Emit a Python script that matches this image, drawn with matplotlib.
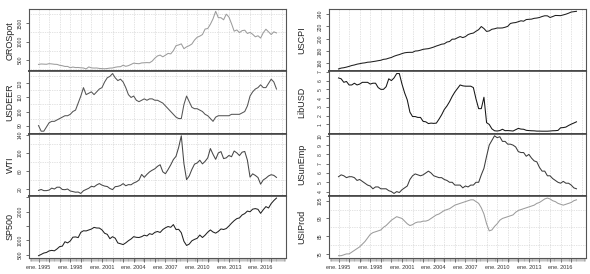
import numpy as np
import pandas as pd
import matplotlib
matplotlib.use('Agg')
import matplotlib.pyplot as plt
from matplotlib.ticker import MultipleLocator

plt.rcParams['font.family'] = ['Liberation Sans', 'DejaVu Sans']

# quarterly observations (ene, abr, jul, oct) from ene. 1995 to jul. 2017
oro_spot = [379, 391, 387, 383, 400, 393, 383, 380, 355, 344, 324, 325,
            289, 308, 293, 296, 287, 282, 256, 311, 285, 280, 282, 270,
            265, 261, 268, 279, 282, 302, 314, 317, 357, 328, 346, 379,
            414, 404, 398, 420, 424, 429, 424, 470, 550, 610, 633, 586,
            631, 679, 666, 754, 889, 909, 939, 807, 858, 890, 935, 1043,
            1118, 1149, 1193, 1342, 1356, 1473, 1620, 1825, 1652, 1651, 1594, 1747,
            1670, 1487, 1284, 1317, 1244, 1299, 1311, 1222, 1251, 1199, 1131, 1159,
            1097, 1242, 1337, 1266, 1192, 1267, 1236]
usdeer = [90, 86, 86, 89, 92, 93, 93, 94, 95, 96, 97, 97,
          98, 100, 101, 106, 111, 117, 112, 113, 114, 112, 114, 116,
          117, 121, 124, 125, 127, 124, 122, 123, 121, 117, 112, 110,
          111, 108, 107, 108, 109, 108, 109, 109, 108, 108, 107, 106,
          104, 102, 100, 98, 96, 95, 95, 105, 111, 107, 103, 102,
          102, 101, 100, 98, 97, 95, 93, 96, 97, 97, 97, 97,
          97, 98, 98, 98, 98, 99, 100, 104, 111, 114, 116, 117,
          119, 117, 117, 120, 123, 121, 116]
wti = [18, 20, 17.5, 17.5, 18.7, 23, 21, 25, 25, 20, 19.6, 21,
       16.7, 15.4, 14, 14.4, 11.3, 17.3, 20, 22.7, 27, 25.7, 30, 33,
       29.6, 27.5, 26.5, 22.2, 19.7, 26.2, 26.9, 28.8, 32.9, 28.2, 30.7, 30.3,
       34.3, 36.7, 40.7, 53.1, 46.8, 53.2, 58.7, 62.4, 65.5, 70.9, 74.4, 58.9,
       54.6, 63.9, 74.1, 85.8, 92.9, 112.6, 138, 76.6, 41.7, 49.8, 64.1, 75.7,
       78.3, 84.3, 76.3, 81.9, 89.4, 110, 97.3, 86.3, 100.3, 103.3, 87.9, 89.5,
       94.8, 92, 104.6, 100.5, 94.6, 102, 103.6, 84.4, 47.2, 54.4, 50.9, 46.3,
       31.7, 41, 44.8, 49.8, 52.5, 51, 46.5]
sp500 = [470, 514, 562, 582, 636, 654, 639, 705, 786, 801, 954, 914,
         980, 1112, 1121, 1098, 1280, 1335, 1329, 1362, 1394, 1452, 1431, 1429,
         1366, 1249, 1211, 1060, 1130, 1077, 912, 885, 856, 916, 990, 1050,
         1131, 1107, 1101, 1130, 1181, 1156, 1234, 1207, 1280, 1310, 1276, 1377,
         1438, 1482, 1455, 1549, 1378, 1385, 1267, 968, 825, 873, 987, 1036,
         1073, 1187, 1101, 1183, 1286, 1363, 1292, 1253, 1312, 1398, 1379, 1412,
         1498, 1598, 1686, 1756, 1782, 1884, 1931, 2018, 1995, 2085, 2104, 2079,
         1940, 2065, 2173, 2126, 2279, 2384, 2470]
uscpi = [150.5, 151.9, 152.5, 153.5, 154.7, 156.1, 157.0, 158.3, 159.1, 160.0, 160.5, 161.5,
         161.8, 162.5, 163.2, 164.0, 164.7, 166.2, 166.7, 168.1, 169.3, 171.3, 172.8, 174.0,
         175.6, 176.9, 177.5, 177.7, 177.7, 179.8, 180.1, 181.2, 182.6, 183.2, 183.7, 184.9,
         186.3, 188.0, 189.4, 191.0, 191.6, 194.5, 195.4, 199.2, 199.3, 201.5, 203.5, 201.8,
         203.4, 206.7, 208.3, 209.2, 212.2, 214.8, 219.9, 216.6, 211.9, 212.7, 215.4, 216.2,
         217.5, 217.4, 217.6, 218.7, 220.2, 224.9, 225.9, 226.4, 227.8, 229.3, 228.6, 231.3,
         231.7, 232.0, 233.3, 233.8, 234.7, 236.3, 237.5, 237.4, 234.7, 236.2, 238.0, 237.9,
         237.7, 238.9, 240.1, 241.7, 243.6, 244.2, 244.8]
libusd = [6.3, 6.2, 5.8, 5.9, 5.5, 5.5, 5.7, 5.5, 5.6, 5.8, 5.8, 5.8,
          5.6, 5.7, 5.7, 5.2, 5.0, 5.0, 5.3, 6.2, 6.0, 6.3, 6.8, 6.8,
          5.6, 4.6, 3.8, 2.4, 1.9, 1.9, 1.8, 1.8, 1.35, 1.3, 1.1, 1.15,
          1.12, 1.15, 1.6, 2.1, 2.7, 3.1, 3.6, 4.2, 4.7, 5.1, 5.5, 5.4,
          5.36, 5.36, 5.36, 5.2, 3.9, 2.8, 2.8, 4.1, 1.2, 1.0, 0.5, 0.28,
          0.25, 0.3, 0.45, 0.29, 0.3, 0.28, 0.25, 0.4, 0.55, 0.47, 0.45, 0.33,
          0.3, 0.28, 0.27, 0.24, 0.24, 0.23, 0.23, 0.23, 0.25, 0.28, 0.29, 0.32,
          0.62, 0.64, 0.7, 0.88, 1.03, 1.16, 1.3]
usunemp = [5.6, 5.8, 5.7, 5.5, 5.6, 5.6, 5.5, 5.2, 5.3, 5.1, 4.9, 4.7,
           4.6, 4.3, 4.5, 4.5, 4.3, 4.3, 4.3, 4.1, 4.0, 3.8, 4.0, 3.9,
           4.2, 4.4, 4.6, 5.3, 5.7, 5.9, 5.8, 5.7, 5.8, 6.0, 6.2, 6.0,
           5.7, 5.6, 5.5, 5.5, 5.3, 5.2, 5.0, 5.0, 4.7, 4.7, 4.7, 4.4,
           4.6, 4.5, 4.7, 4.7, 5.0, 5.0, 5.8, 6.5, 7.8, 9.0, 9.5, 10.0,
           9.8, 9.9, 9.4, 9.4, 9.1, 9.1, 9.0, 8.8, 8.3, 8.2, 8.2, 7.8,
           8.0, 7.6, 7.3, 7.2, 6.6, 6.2, 6.2, 5.7, 5.7, 5.4, 5.2, 5.0,
           4.9, 5.1, 4.9, 4.9, 4.7, 4.4, 4.3]
usiprod = [74, 74, 74.5, 75, 75, 76, 77, 78, 79, 80.5, 82, 84,
           86, 87, 87.5, 88, 88.5, 90, 91, 92.5, 94, 95, 96, 95.5,
           95, 93.5, 92, 91, 91.5, 92.5, 93, 93, 93.5, 93.5, 94, 95,
           96, 97, 97.5, 98.5, 99.5, 100, 100.5, 101.5, 102.5, 103, 103.5, 104,
           104.5, 105, 105.5, 105.5, 104.5, 103.5, 101, 97.5, 92, 88, 88.5, 90.5,
           92, 94, 95, 95.5, 96, 96.5, 97, 98.5, 99.5, 100, 100.5, 101,
           101.5, 102, 102.5, 103.5, 104, 105, 106, 106.5, 106, 105, 104.5, 103.5,
           103, 102.5, 103, 103.5, 104, 105, 105.5]

dates = pd.date_range('1995-01-01', periods=len(oro_spot), freq='QS')
t = dates.year + (dates.month - 1) / 12.0
label_years = [1995, 1998, 2001, 2004, 2007, 2010, 2013, 2016]

# name, values, colour, tick positions, tick labels, grid step
left_panels = [
    ('OROSpot', oro_spot, '#9c9c9c', [500, 1000, 1500], None, 250),
    ('USDEER', usdeer, '#555555', [90, 100, 110, 120], None, 5),
    ('WTI', wti, '#474747', [20, 60, 100, 140], None, 20),
    ('SP500', sp500, '#222222', [500, 1000, 1500, 2000, 2500],
     ['500', '1000', '', '2000', ''], 500),
]
right_panels = [
    ('USCPI', uscpi, '#1e1e1e', [160, 180, 200, 220, 240], None, 20),
    ('LibUSD', libusd, '#151515', [1, 2, 3, 4, 5, 6, 7], None, 1),
    ('USunEmp', usunemp, '#3c3c3c', [4, 5, 6, 7, 8, 9, 10], None, 1),
    ('USIProd', usiprod, '#9c9c9c', [75, 85, 95, 105], None, 5),
]

W, H = 590, 274
fig = plt.figure(figsize=(W / 100, H / 100), dpi=100)

span = t[-1] - t[0]
xlim = (t[0] - 0.04 * span, t[-1] + 0.04 * span)


def draw_column(panels, x0, x1, label_x):
    top, bottom = 9, 258
    ph = (bottom - top) / len(panels)
    for k, (name, vals, col, ticks, labels, gstep) in enumerate(panels):
        y_top = top + k * ph
        ax = fig.add_axes([x0 / W, 1 - (y_top + ph) / H, (x1 - x0) / W, ph / H])
        vals = np.asarray(vals, dtype=float)
        ax.plot(t, vals, color=col, lw=0.75)
        lo, hi = vals.min(), vals.max()
        ax.set_ylim(lo - 0.04 * (hi - lo), hi + 0.04 * (hi - lo))
        ax.set_xlim(*xlim)

        ax.set_yticks(ticks)
        ax.set_yticklabels(labels if labels else [str(v) for v in ticks])
        ax.yaxis.set_minor_locator(MultipleLocator(gstep))
        ax.tick_params(axis='y', which='major', labelsize=3.6, length=2, width=0.5,
                       pad=2.5, labelrotation=90, colors='#333333')
        ax.tick_params(axis='y', which='minor', length=0)
        for lab in ax.get_yticklabels():
            lab.set_va('center')

        ax.xaxis.set_major_locator(MultipleLocator(1))
        ax.xaxis.set_minor_locator(MultipleLocator(1 / 12))
        ax.grid(True, which='major', axis='x', color='#c8c8c8', lw=0.5,
                linestyle=(0, (1, 1.5)))
        ax.grid(True, which='minor', axis='y', color='#c8c8c8', lw=0.5,
                linestyle=(0, (1, 1.5)))

        if k == len(panels) - 1:
            ax.set_xticks(np.arange(1995, 2018))
            ax.set_xticklabels(['ene. %d' % y if y in label_years else ''
                                for y in range(1995, 2018)])
            ax.tick_params(axis='x', which='major', labelsize=4, length=3, width=0.5,
                           pad=2, colors='#333333')
            ax.tick_params(axis='x', which='minor', length=2, width=0.4, color='#999999')
        else:
            ax.tick_params(axis='x', which='both', length=0, labelbottom=False)

        for side, sp in ax.spines.items():
            sp.set_color('#555555')
            sp.set_linewidth(0.8)
        if k > 0:
            ax.spines['top'].set_linewidth(1.2)
            ax.spines['top'].set_color('#444444')
        if k < len(panels) - 1:
            ax.spines['bottom'].set_linewidth(1.2)
            ax.spines['bottom'].set_color('#444444')

        fig.text(label_x / W, 1 - (y_top + ph / 2) / H, name, rotation=90,
                 ha='center', va='center', fontsize=6.5, color='#222222')


draw_column(left_panels, 29, 286, 10)
draw_column(right_panels, 329, 586, 302)

fig.savefig('out.png', dpi=100)
